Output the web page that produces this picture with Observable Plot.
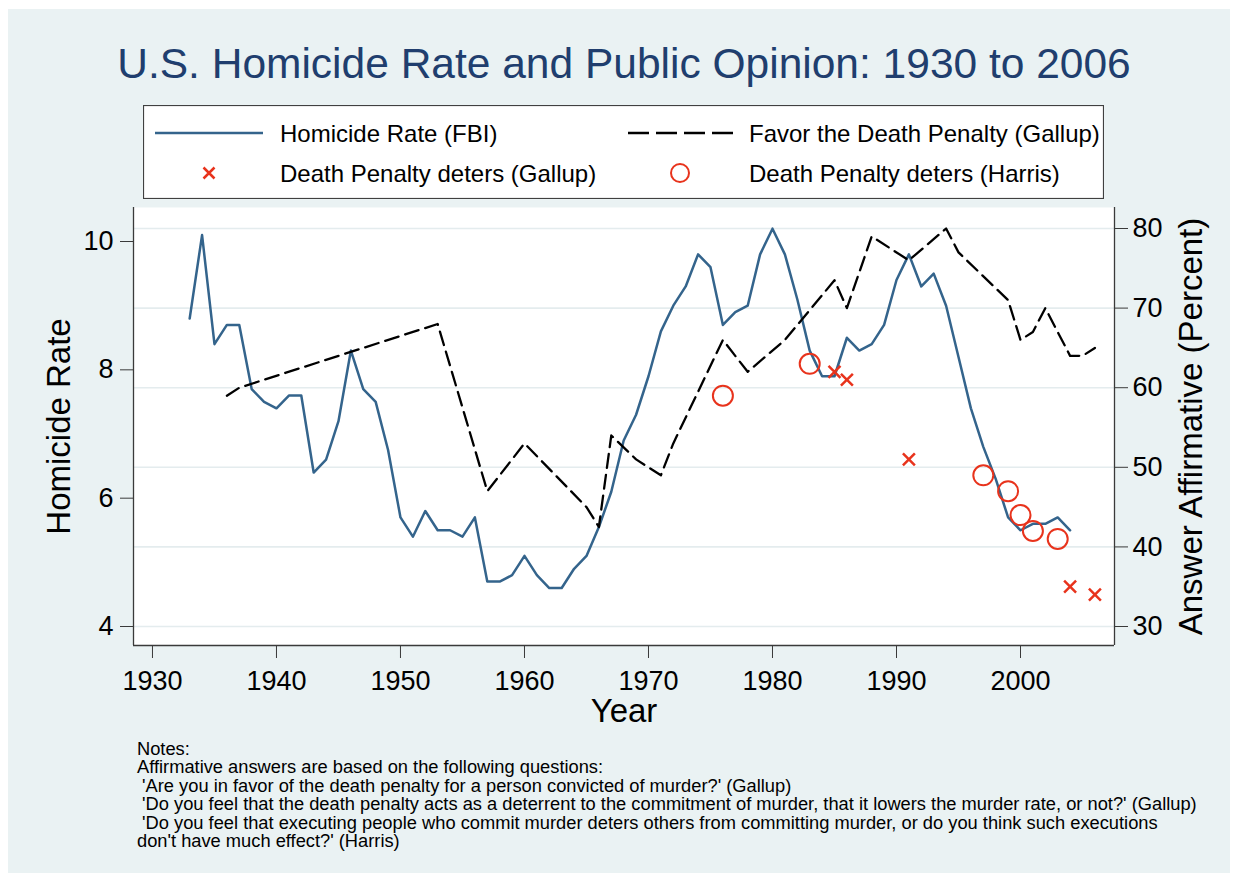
<!DOCTYPE html>
<html>
<head>
<meta charset="utf-8">
<script src="https://cdn.jsdelivr.net/npm/d3@7"></script>
<script src="https://cdn.jsdelivr.net/npm/@observablehq/plot@0.6"></script>
<style>
  html, body { margin: 0; padding: 0; background: #ffffff; }
  #page { position: relative; width: 1238px; height: 881px; overflow: hidden;
          font-family: "Liberation Sans", Arial, Helvetica, sans-serif; }
  #bg { position: absolute; left: 8px; top: 9px; width: 1222px; height: 864px; background: #EAF2F3; }
  #title { position: absolute; left: 0; top: 43.3px; width: 1248px; text-align: center;
           font-size: 42.5px; line-height: 42.5px; color: #203E6E; white-space: nowrap; }
  #legend { position: absolute; left: 143px; top: 105px; }
  #chart { position: absolute; left: 0; top: 200px; }
  #notes { position: absolute; left: 137px; top: 739.5px; font-size: 18.3px; line-height: 18.6px;
           white-space: pre; color: #000; }
</style>
</head>
<body>
<div id="page">
  <div id="bg"></div>
  <div id="title"></div>
  <div id="legend"></div>
  <div id="chart"></div>
  <div id="notes"></div>
</div>
<script>
// ---------- data ----------
const titleText = "U.S. Homicide Rate and Public Opinion: 1930 to 2006";

const homicideYears = [
  1933,1934,1935,1936,1937,1938,1939,1940,1941,1942,1943,1944,1945,1946,1947,1948,1949,
  1950,1951,1952,1953,1954,1955,1956,1957,1958,1959,1960,1961,1962,1963,1964,1965,1966,
  1967,1968,1969,1970,1971,1972,1973,1974,1975,1976,1977,1978,1979,1980,1981,1982,1983,
  1984,1985,1986,1987,1988,1989,1990,1991,1992,1993,1994,1995,1996,1997,1998,1999,2000,
  2001,2002,2003,2004];
const homicideRate = [
  8.8,10.1,8.4,8.7,8.7,7.7,7.5,7.4,7.6,7.6,6.4,6.6,7.2,8.3,7.7,7.5,6.75,
  5.7,5.4,5.8,5.5,5.5,5.4,5.7,4.7,4.7,4.8,5.1,4.8,4.6,4.6,4.9,5.1,5.55,
  6.1,6.9,7.3,7.9,8.6,9.0,9.3,9.8,9.6,8.7,8.9,9.0,9.8,10.2,9.8,9.1,8.3,
  7.9,7.9,8.5,8.3,8.4,8.7,9.4,9.8,9.3,9.5,9.0,8.2,7.4,6.8,6.3,5.7,5.5,
  5.6,5.6,5.7,5.5];

const favorYears = [1936,1937,1953,1957,1960,1965,1966,1967,1969,1971,1972,1976,1978,1981,
  1985,1986,1988,1991,1994,1995,1999,2000,2001,2002,2004,2005,2006];
const favorPct = [59,60,68,47,53,45,42.5,54,51,49,53,66,62,66,
  73.5,70,79,76,80,77,71,66,67,70,64,64,65];

const gallupDetersYears = [1985,1986,1991,2004,2006];
const gallupDetersPct = [62,61,51,35,34];

const harrisDetersYears = [1976,1983,1997,1999,2000,2001,2003];
const harrisDetersPct = [59,63,49,47,44,42,41];

const leftTicks = [4,6,8,10];
const rightTicks = [30,40,50,60,70,80];
const xTicks = [1930,1940,1950,1960,1970,1980,1990,2000];

const legendLabels = ["Homicide Rate (FBI)", "Favor the Death Penalty (Gallup)",
  "Death Penalty deters (Gallup)", "Death Penalty deters (Harris)"];
const yLabelLeft = "Homicide Rate";
const yLabelRight = "Answer Affirmative (Percent)";
const xLabel = "Year";

const notesLines = [
  "Notes:",
  "Affirmative answers are based on the following questions:",
  " 'Are you in favor of the death penalty for a person convicted of murder?' (Gallup)",
  " 'Do you feel that the death penalty acts as a deterrent to the commitment of murder, that it lowers the murder rate, or not?' (Gallup)",
  " 'Do you feel that executing people who commit murder deters others from committing murder, or do you think such executions",
  "don't have much effect?' (Harris)"
];

// ---------- styles ----------
const BLUE = "#34648C";
const RED = "#E8331C";
const AXIS = "#3a3a3a";
const DASH = "14,7";

// dual axis: left homicide units (4..10) vs right percent (30..80)
const H_PER_PCT = (6 / 385) * (398 / 50);
const pctToH = p => 4 + (p - 30) * H_PER_PCT;
const hToPct = h => 30 + (h - 4) / H_PER_PCT;

const homicide = homicideYears.map((y, i) => ({year: y, value: homicideRate[i]}));
const favor = favorYears.map((y, i) => ({year: y, pct: favorPct[i]}));
const gallup = gallupDetersYears.map((y, i) => ({year: y, pct: gallupDetersPct[i]}));
const harris = harrisDetersYears.map((y, i) => ({year: y, pct: harrisDetersPct[i]}));

const xDomain = [1928.47, 2007.58];
const yDomain = [3.704, 10.53];

// ---------- title ----------
document.getElementById("title").textContent = titleText;

// ---------- legend ----------
(function () {
  const ns = "http://www.w3.org/2000/svg";
  const svg = document.createElementNS(ns, "svg");
  svg.setAttribute("width", 961); svg.setAttribute("height", 94);
  const add = (tag, attrs, text) => {
    const el = document.createElementNS(ns, tag);
    for (const k in attrs) el.setAttribute(k, attrs[k]);
    if (text) el.textContent = text;
    svg.appendChild(el); return el;
  };
  add("rect", {x: 0.5, y: 0.5, width: 960, height: 93, fill: "#fff", stroke: "#404040", "stroke-width": 1.2});
  add("line", {x1: 12, x2: 120, y1: 28, y2: 28, stroke: BLUE, "stroke-width": 2.5});
  add("line", {x1: 485, x2: 592, y1: 28, y2: 28, stroke: "#000", "stroke-width": 2.3, "stroke-dasharray": "21,7"});
  add("path", {d: "M60.5,62.5L71.5,73.5M71.5,62.5L60.5,73.5", stroke: RED, "stroke-width": 2.5, fill: "none"});
  add("circle", {cx: 537, cy: 68, r: 9, stroke: RED, "stroke-width": 2, fill: "none"});
  const tx = [[137, 37], [606, 37], [137, 77], [606, 77]];
  legendLabels.forEach((t, i) => add("text", {x: tx[i][0], y: tx[i][1], "font-size": 24,
    "font-family": "Liberation Sans, Arial, sans-serif", fill: "#000"}, t));
  document.getElementById("legend").appendChild(svg);
})();

// ---------- chart ----------
const chart = Plot.plot({
  width: 1238,
  height: 545,
  marginTop: 7,
  marginBottom: 100,
  marginLeft: 133,
  marginRight: 124,
  style: {background: "transparent", fontFamily: "Liberation Sans, Arial, sans-serif", overflow: "visible", color: "#000"},
  x: {domain: xDomain},
  y: {domain: yDomain},
  marks: [
    Plot.frame({fill: "white", stroke: null}),
    Plot.ruleY(rightTicks, {y: p => pctToH(p), stroke: "#E4ECEE", strokeWidth: 1.6}),
    Plot.line(homicide, {x: "year", y: "value", stroke: BLUE, strokeWidth: 2.5}),
    Plot.line(favor, {x: "year", y: d => pctToH(d.pct), stroke: "#000", strokeWidth: 2.3, strokeDasharray: DASH}),
    Plot.dot(gallup, {x: "year", y: d => pctToH(d.pct), symbol: "times", r: 5.5, stroke: RED, strokeWidth: 2.5}),
    Plot.dot(harris, {x: "year", y: d => pctToH(d.pct), r: 10, stroke: RED, strokeWidth: 2, fill: "none"}),
    Plot.ruleX(xDomain, {stroke: AXIS, strokeWidth: 1.3}),
    Plot.ruleY([yDomain[0]], {stroke: AXIS, strokeWidth: 1.3}),
    Plot.axisY({ticks: leftTicks, anchor: "left", tickSize: 13, tickPadding: 7, fontSize: 27,
      label: null, stroke: AXIS, fill: "#000", tickFormat: d => String(d)}),
    Plot.axisY({ticks: rightTicks.map(pctToH), anchor: "right", tickSize: 13, tickPadding: 5, fontSize: 27,
      label: null, stroke: AXIS, fill: "#000", tickFormat: d => String(Math.round(hToPct(d)))}),
    Plot.axisX({ticks: xTicks, anchor: "bottom", tickSize: 13, tickPadding: 12, fontSize: 27,
      label: null, stroke: AXIS, fill: "#000", tickFormat: d => String(d)}),
    Plot.text([yLabelLeft], {text: d => d, frameAnchor: "left", dx: -73.6, rotate: -90,
      textAnchor: "middle", lineAnchor: "middle", fontSize: 33, fill: "#000"}),
    Plot.text([yLabelRight], {text: d => d, frameAnchor: "right", dx: 76.5, rotate: -90,
      textAnchor: "middle", lineAnchor: "middle", fontSize: 33, fill: "#000"}),
    Plot.text([xLabel], {text: d => d, frameAnchor: "bottom", dy: 66,
      textAnchor: "middle", lineAnchor: "middle", fontSize: 33, fill: "#000"})
  ]
});
document.getElementById("chart").appendChild(chart);

// ---------- notes ----------
document.getElementById("notes").textContent = notesLines.join("\n");
</script>
</body>
</html>
